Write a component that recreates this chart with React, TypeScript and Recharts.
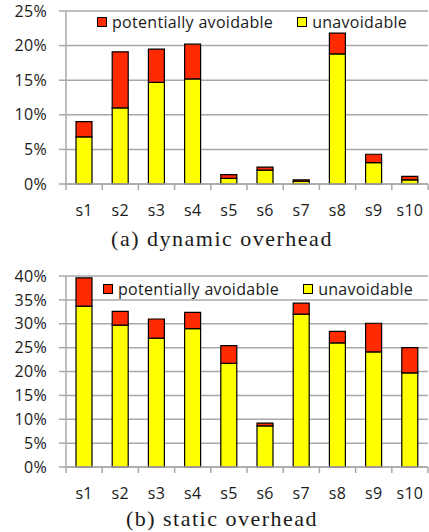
import React from "react";
import { BarChart, Bar, XAxis, YAxis, CartesianGrid, Legend } from "recharts";

const categories = ["s1", "s2", "s3", "s4", "s5", "s6", "s7", "s8", "s9", "s10"];

// (a) dynamic overhead, percent
const dynUnavoidable = [6.8, 11.0, 14.7, 15.2, 0.8, 2.0, 0.4, 18.8, 3.1, 0.6];
const dynAvoidable = [2.2, 8.1, 4.8, 5.0, 0.55, 0.45, 0.2, 3.0, 1.2, 0.5];
const dynTicks = [0, 5, 10, 15, 20, 25];

// (b) static overhead, percent
const statUnavoidable = [33.7, 29.7, 27.0, 29.0, 21.7, 8.6, 32.0, 26.0, 24.1, 19.7];
const statAvoidable = [5.9, 2.9, 4.0, 3.4, 3.7, 0.6, 2.3, 2.4, 6.0, 5.3];
const statTicks = [0, 5, 10, 15, 20, 25, 30, 35, 40];

const RED = "#ff2a00";
const YELLOW = "#ffff00";
const GRID = "#a8a8a8";
const SANS = "'Open Sans', sans-serif";
const FS = 16;
const LS = 0.3;

const CHART_W = 429;
const Y_AXIS_W = 66;
const RIGHT = 1;
const X_AXIS_H = 45;
const BAND = (CHART_W - Y_AXIS_W - RIGHT) / categories.length;

const build = (unavoidable: number[], avoidable: number[]) =>
  categories.map((name, i) => ({
    name,
    unavoidable: unavoidable[i],
    avoidable: avoidable[i],
  }));

const XTick = (props: any) => {
  const { x, y, payload, index } = props;
  const last = index === categories.length - 1;
  return (
    <g>
      <line x1={x - BAND / 2} x2={x - BAND / 2} y1={y} y2={y + 6} stroke={GRID} strokeWidth={1.5} />
      {last && (
        <line x1={x + BAND / 2} x2={x + BAND / 2} y1={y} y2={y + 6} stroke={GRID} strokeWidth={1.5} />
      )}
      <text
        x={x}
        y={y + 26}
        textAnchor="middle"
        dominantBaseline="central"
        fontSize={FS}
        fill="#1a1a1a"
        style={{ letterSpacing: LS }}
      >
        {payload.value}
      </text>
    </g>
  );
};

const LegendContent = (props: any) => {
  const items = props.payload || [];
  return (
    <div style={{ display: "flex", alignItems: "center", lineHeight: "20px", fontSize: FS, color: "#1a1a1a", letterSpacing: LS }}>
      {items.map((it: any, i: number) => (
        <div key={it.value} style={{ display: "flex", alignItems: "center", marginLeft: i === 0 ? 0 : 24 }}>
          <span
            style={{
              display: "inline-block",
              width: 8,
              height: 8,
              border: "1px solid #000",
              background: it.color,
              marginRight: 5,
            }}
          />
          <span>{it.value}</span>
        </div>
      ))}
    </div>
  );
};

type PanelProps = {
  unavoidable: number[];
  avoidable: number[];
  ticks: number[];
  top: number;
  plotHeight: number;
  marginTop: number;
  legendLeft: number;
  legendTop: number;
  caption: string;
  captionTop: number;
};

const Panel = (p: PanelProps) => {
  const data = build(p.unavoidable, p.avoidable);
  const max = p.ticks[p.ticks.length - 1];
  return (
    <>
      <div style={{ position: "absolute", left: 0, top: p.top }}>
        <BarChart
          width={CHART_W}
          height={p.marginTop + p.plotHeight + X_AXIS_H}
          data={data}
          margin={{ top: p.marginTop, right: RIGHT, bottom: 0, left: 0 }}
        >
          <CartesianGrid vertical={false} stroke={GRID} strokeWidth={1.5} />
          <XAxis
            dataKey="name"
            height={X_AXIS_H}
            interval={0}
            tickLine={false}
            tickSize={0}
            tickMargin={0}
            axisLine={{ stroke: GRID, strokeWidth: 1.5 }}
            tick={<XTick />}
          />
          <YAxis
            width={Y_AXIS_W}
            domain={[0, max]}
            ticks={p.ticks}
            interval={0}
            tickSize={7}
            tickMargin={12}
            tickLine={{ stroke: GRID, strokeWidth: 1.5 }}
            axisLine={{ stroke: GRID, strokeWidth: 1.5 }}
            tickFormatter={(v: number) => `${v}%`}
            tick={{ fontSize: FS, fill: "#1a1a1a", style: { letterSpacing: LS } }}
          />
          <Legend
            layout="horizontal"
            verticalAlign="middle"
            align="center"
            content={<LegendContent />}
            wrapperStyle={{ position: "absolute", top: p.legendTop, left: p.legendLeft, width: 340 }}
          />
          <Bar
            dataKey="unavoidable"
            name="unavoidable"
            stackId="a"
            fill={YELLOW}
            stroke="#000"
            strokeWidth={1.2}
            barSize={16}
            isAnimationActive={false}
          />
          <Bar
            dataKey="avoidable"
            name="potentially avoidable"
            stackId="a"
            fill={RED}
            stroke="#000"
            strokeWidth={1.2}
            barSize={16}
            isAnimationActive={false}
          />
        </BarChart>
      </div>
      <div
        style={{
          position: "absolute",
          left: 0,
          top: p.captionTop,
          width: 444,
          textAlign: "center",
          fontFamily: "'Liberation Serif', serif",
          fontSize: 22,
          lineHeight: "24px",
          letterSpacing: 1.5,
          color: "#1a1a1a",
        }}
      >
        {p.caption}
      </div>
    </>
  );
};

export default function App() {
  return (
    <div
      style={{
        position: "absolute",
        left: 0,
        top: 0,
        width: 429,
        height: 532,
        background: "#fff",
        fontFamily: SANS,
        overflow: "hidden",
      }}
    >
      <Panel
        unavoidable={dynUnavoidable}
        avoidable={dynAvoidable}
        ticks={dynTicks}
        top={0}
        plotHeight={173}
        marginTop={11}
        legendLeft={97}
        legendTop={12}
        caption="(a) dynamic overhead"
        captionTop={227}
      />
      <Panel
        unavoidable={statUnavoidable}
        avoidable={statAvoidable}
        ticks={statTicks}
        top={262}
        plotHeight={191}
        marginTop={14}
        legendLeft={103}
        legendTop={17}
        caption="(b) static overhead"
        captionTop={507}
      />
    </div>
  );
}
